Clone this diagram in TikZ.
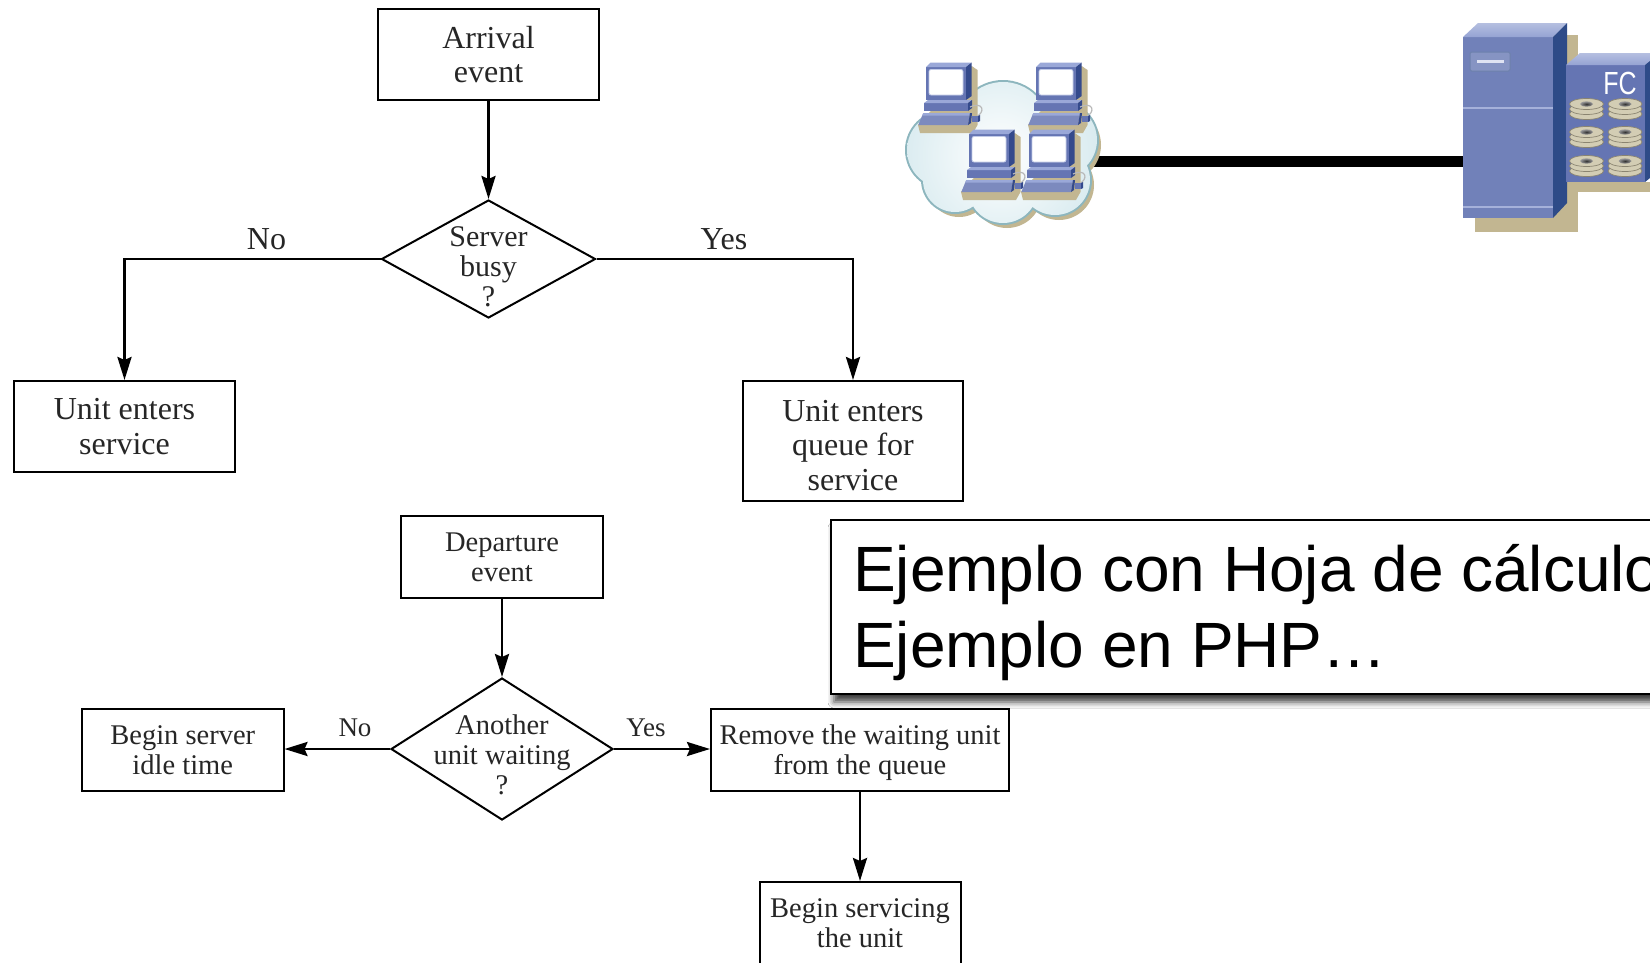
\documentclass[tikz,border=0pt]{standalone}
\usepackage{fontspec}
\setmainfont{Liberation Serif}
\newfontfamily\sansf{Liberation Sans}
\usetikzlibrary{shapes.geometric,arrows.meta,shadows.blur}

\definecolor{pcfront}{HTML}{6575B3}
\definecolor{pctop}{HTML}{9AA8D8}
\definecolor{pcside}{HTML}{344A8C}
\definecolor{tanshadow}{HTML}{C2B691}
\definecolor{cloudline}{HTML}{8DB6BE}
\definecolor{cloudedge}{HTML}{C6E1E8}
\definecolor{srvfront}{HTML}{7181B9}
\definecolor{srvtop}{HTML}{95A3D3}
\definecolor{srvside}{HTML}{2E4B88}
\definecolor{diskbody}{HTML}{D3CDB4}
\definecolor{diskline}{HTML}{8A8470}

% circles whose union forms the cloud
\newcommand\cloudlist{945/150/38, 1003/128/46, 1060/140/37, 955/180/32, 1003/188/35, 1055/180/35, 1000/160/45}

\tikzset{
  procbox/.style={draw, line width=2pt, inner sep=0pt, align=center, text=black!85},
  topfont/.style={font=\fontsize{32}{34.5}\selectfont},
  lowfont/.style={font=\fontsize{28.5}{30}\selectfont},
  decision/.style={draw, shape=diamond, line width=2pt, inner sep=0pt},
  flowarrow/.style={line width=2.8pt, -{Stealth[length=23pt,width=14pt,inset=3pt]}},
  branch/.style={text=black!85, inner sep=0pt},
  pics/pc/.style={code={
    % shadow
    \fill[tanshadow] (45.7,-1) -- (51.5,3) -- (51.5,58) -- (47,66) -- (-6,66) -- (-8,58) -- cycle;
    % desktop unit
    \fill[pcfront] (-2,36) rectangle (42,44);
    \fill[pctop] (-2,36) -- (2,33) -- (46,33) -- (42,36) -- cycle;
    \fill[pcside] (42,36) -- (46,33) -- (46,41) -- (42,44) -- cycle;
    % keyboard
    \fill[pcfront!85!white] (-7.7,58) -- (-2.7,46) -- (44,46) -- (42,58) -- cycle;
    \fill[pctop] (-2.7,46) -- (44,46) -- (43.5,48.5) -- (-3.7,48.5) -- cycle;
    \fill[pcside] (42,58) -- (44,46) -- (46,46) -- (45,56) -- cycle;
    % monitor
    \fill[pcfront] (0,0) rectangle (40,33);
    \fill[pctop] (0,0) -- (4.5,-4.5) -- (45.7,-4.5) -- (40,0) -- cycle;
    \fill[pcside] (40,0) -- (45.7,-4.5) -- (45.7,29) -- (40,33) -- cycle;
    \filldraw[fill=white, draw=pctop!60!white, line width=0.8pt, rounded corners=2pt] (3,2.5) rectangle (37,28);
    % mouse and cable
    \draw[gray!55, line width=1.2pt] (44,40) .. controls (57,34) and (60,45) .. (50,50);
    \fill[pcfront] (45.5,49) rectangle (52,55);
    \fill[pcside] (52,49) -- (54,48) -- (54,54) -- (52,55) -- cycle;
  }},
  pics/disk/.style={code={
    \foreach \dy in {10,5,0}{
      \filldraw[fill=diskbody, draw=diskline, line width=0.7pt] (0,\dy) ellipse (17 and 5.5);
    }
    \shade[inner color=black!80, outer color=black!40] (0,0) ellipse (6.5 and 2.6);
  }},
}

\begin{document}
\begin{tikzpicture}[x=1pt,y=-1pt]
\useasboundingbox (0,0) rectangle (1650,962);
\clip (0,0) rectangle (1650,962);
\fill[white] (0,0) rectangle (1650,962);

% ---------- arrival event flowchart ----------
\node[procbox, topfont, minimum width=221pt, minimum height=91pt] (arrival) at (488.5,54.5) {Arrival\\event};
\node[decision, minimum width=214pt, minimum height=118pt] (q1) at (488.5,259) {};
\node[branch, align=center, font=\fontsize{30}{30}\selectfont] (q1txt) at (488.5,267) {Server\\busy\\?};
\node[procbox, topfont, minimum width=221pt, minimum height=91pt] (svc) at (124.5,426.5) {Unit enters\\service};
\node[procbox, minimum width=220pt, minimum height=120pt] (queue) at (853,441) {};
\node[branch, topfont, align=center] (queuetxt) at (853,445.5) {Unit enters\\queue for\\service};

\draw[flowarrow] (arrival.south) -- (q1.north);
\draw[flowarrow] (q1.west) -| (svc.north);
\draw[flowarrow] (q1.east) -| (queue.north);
\node[branch, topfont] (no1) at (266.5,239) {No};
\node[branch, topfont] (yes1) at (724,239) {Yes};

% ---------- departure event flowchart ----------
\node[procbox, lowfont, minimum width=202pt, minimum height=82pt] (dep) at (502,557) {Departure\\event};
\node[decision, minimum width=222pt, minimum height=142pt] (q2) at (502,749) {};
\node[branch, lowfont, align=center] (q2txt) at (502,755) {Another\\unit waiting\\?};
\node[procbox, lowfont, minimum width=201.5pt, minimum height=82pt] (idle) at (182.75,750) {Begin server\\idle time};
\node[procbox, minimum width=298pt, minimum height=82pt] (remove) at (860,750) {};
\node[branch, lowfont, align=center] (removetxt) at (860,753) {Remove the waiting unit\\from the queue};
\node[procbox, lowfont, minimum width=201pt, minimum height=82pt] (serv) at (860,923) {Begin servicing\\the unit};

\draw[flowarrow] (dep.south) -- (q2.north);
\draw[flowarrow] (q2.west) -- (q2.west -| idle.east);
\draw[flowarrow] (q2.east) -- (q2.east -| remove.west);
\draw[flowarrow] (remove.south) -- (serv.north);
\node[branch, font=\fontsize{27}{27}\selectfont] (no2) at (355,727.5) {No};
\node[branch, font=\fontsize{27}{27}\selectfont] (yes2) at (646,727.5) {Yes};

% ---------- text box ----------
\node[draw, line width=2pt, fill=white, minimum width=900pt, minimum height=174pt, anchor=north west,
      blur shadow={shadow xshift=3pt, shadow yshift=-8pt, shadow blur radius=6pt, shadow opacity=75}] (tb) at (830,519) {};
\node[anchor=base west, inner sep=0pt, font=\sansf\fontsize{64}{76}\selectfont] (tb1) at (853,591) {Ejemplo con Hoja de cálculo};
\node[anchor=base west, inner sep=0pt, font=\sansf\fontsize{64}{76}\selectfont] (tb2) at (853,667) {Ejemplo en PHP…};

% ---------- network: LAN cloud linked to server ----------
\coordinate (cloudE) at (1094,161);
\coordinate (towerW) at (1464,161);
\draw[line width=11pt] (cloudE) -- (towerW);

\fill[tanshadow] \foreach \cx/\cy/\r in \cloudlist {(\cx+4,\cy+5) circle (\r)};
\draw[cloudline, line width=4pt] \foreach \cx/\cy/\r in \cloudlist {(\cx,\cy) circle (\r)};
\begin{scope}
  \clip \foreach \cx/\cy/\r in \cloudlist {(\cx,\cy) circle (\r)};
  \shade[inner color=white, outer color=cloudedge] (1000,155) circle (150);
\end{scope}

\pic at (926,67) {pc};
\pic at (1036,67) {pc};
\pic at (969,134) {pc};
\pic at (1029,134) {pc};

% server tower
\fill[tanshadow] (1475,35) rectangle (1578,232);
\fill[srvfront] (1463,37) rectangle (1553,218);
\shade[top color=srvtop!70!white, bottom color=srvtop] (1463,37) -- (1478,23) -- (1567,23) -- (1553,37) -- cycle;
\fill[srvside] (1553,37) -- (1567,23) -- (1567,203) -- (1553,218) -- cycle;
\filldraw[fill=srvfront!85!white, draw=srvside!70, line width=1pt, rounded corners=1.5pt] (1470,52) rectangle (1510,71);
\fill[srvtop!30!white] (1477,59.5) rectangle (1504,63);
\draw[srvtop!85!white, line width=1.5pt] (1463,108) -- (1553,108);
\draw[srvtop!85!white, line width=1.5pt] (1463,207) -- (1553,207);

% fibre channel storage
\fill[tanshadow] (1573,182) rectangle (1650,192);
\fill[pcfront] (1566,65) rectangle (1645,182);
\shade[top color=srvtop!70!white, bottom color=srvtop] (1566,65) -- (1580,53) -- (1662,53) -- (1645,65) -- cycle;
\fill[srvside] (1645,65) -- (1660,53) -- (1660,170) -- (1645,182) -- cycle;
\node[text=white, inner sep=0pt, font=\sansf\fontsize{32}{32}\selectfont] (fc) at (1620,83) {\scalebox{0.78}[1]{FC}};
\pic at (1586.5,104) {disk};
\pic at (1625,104) {disk};
\pic at (1586.5,132) {disk};
\pic at (1625,132) {disk};
\pic at (1586.5,161) {disk};
\pic at (1625,161) {disk};
\end{tikzpicture}
\end{document}
